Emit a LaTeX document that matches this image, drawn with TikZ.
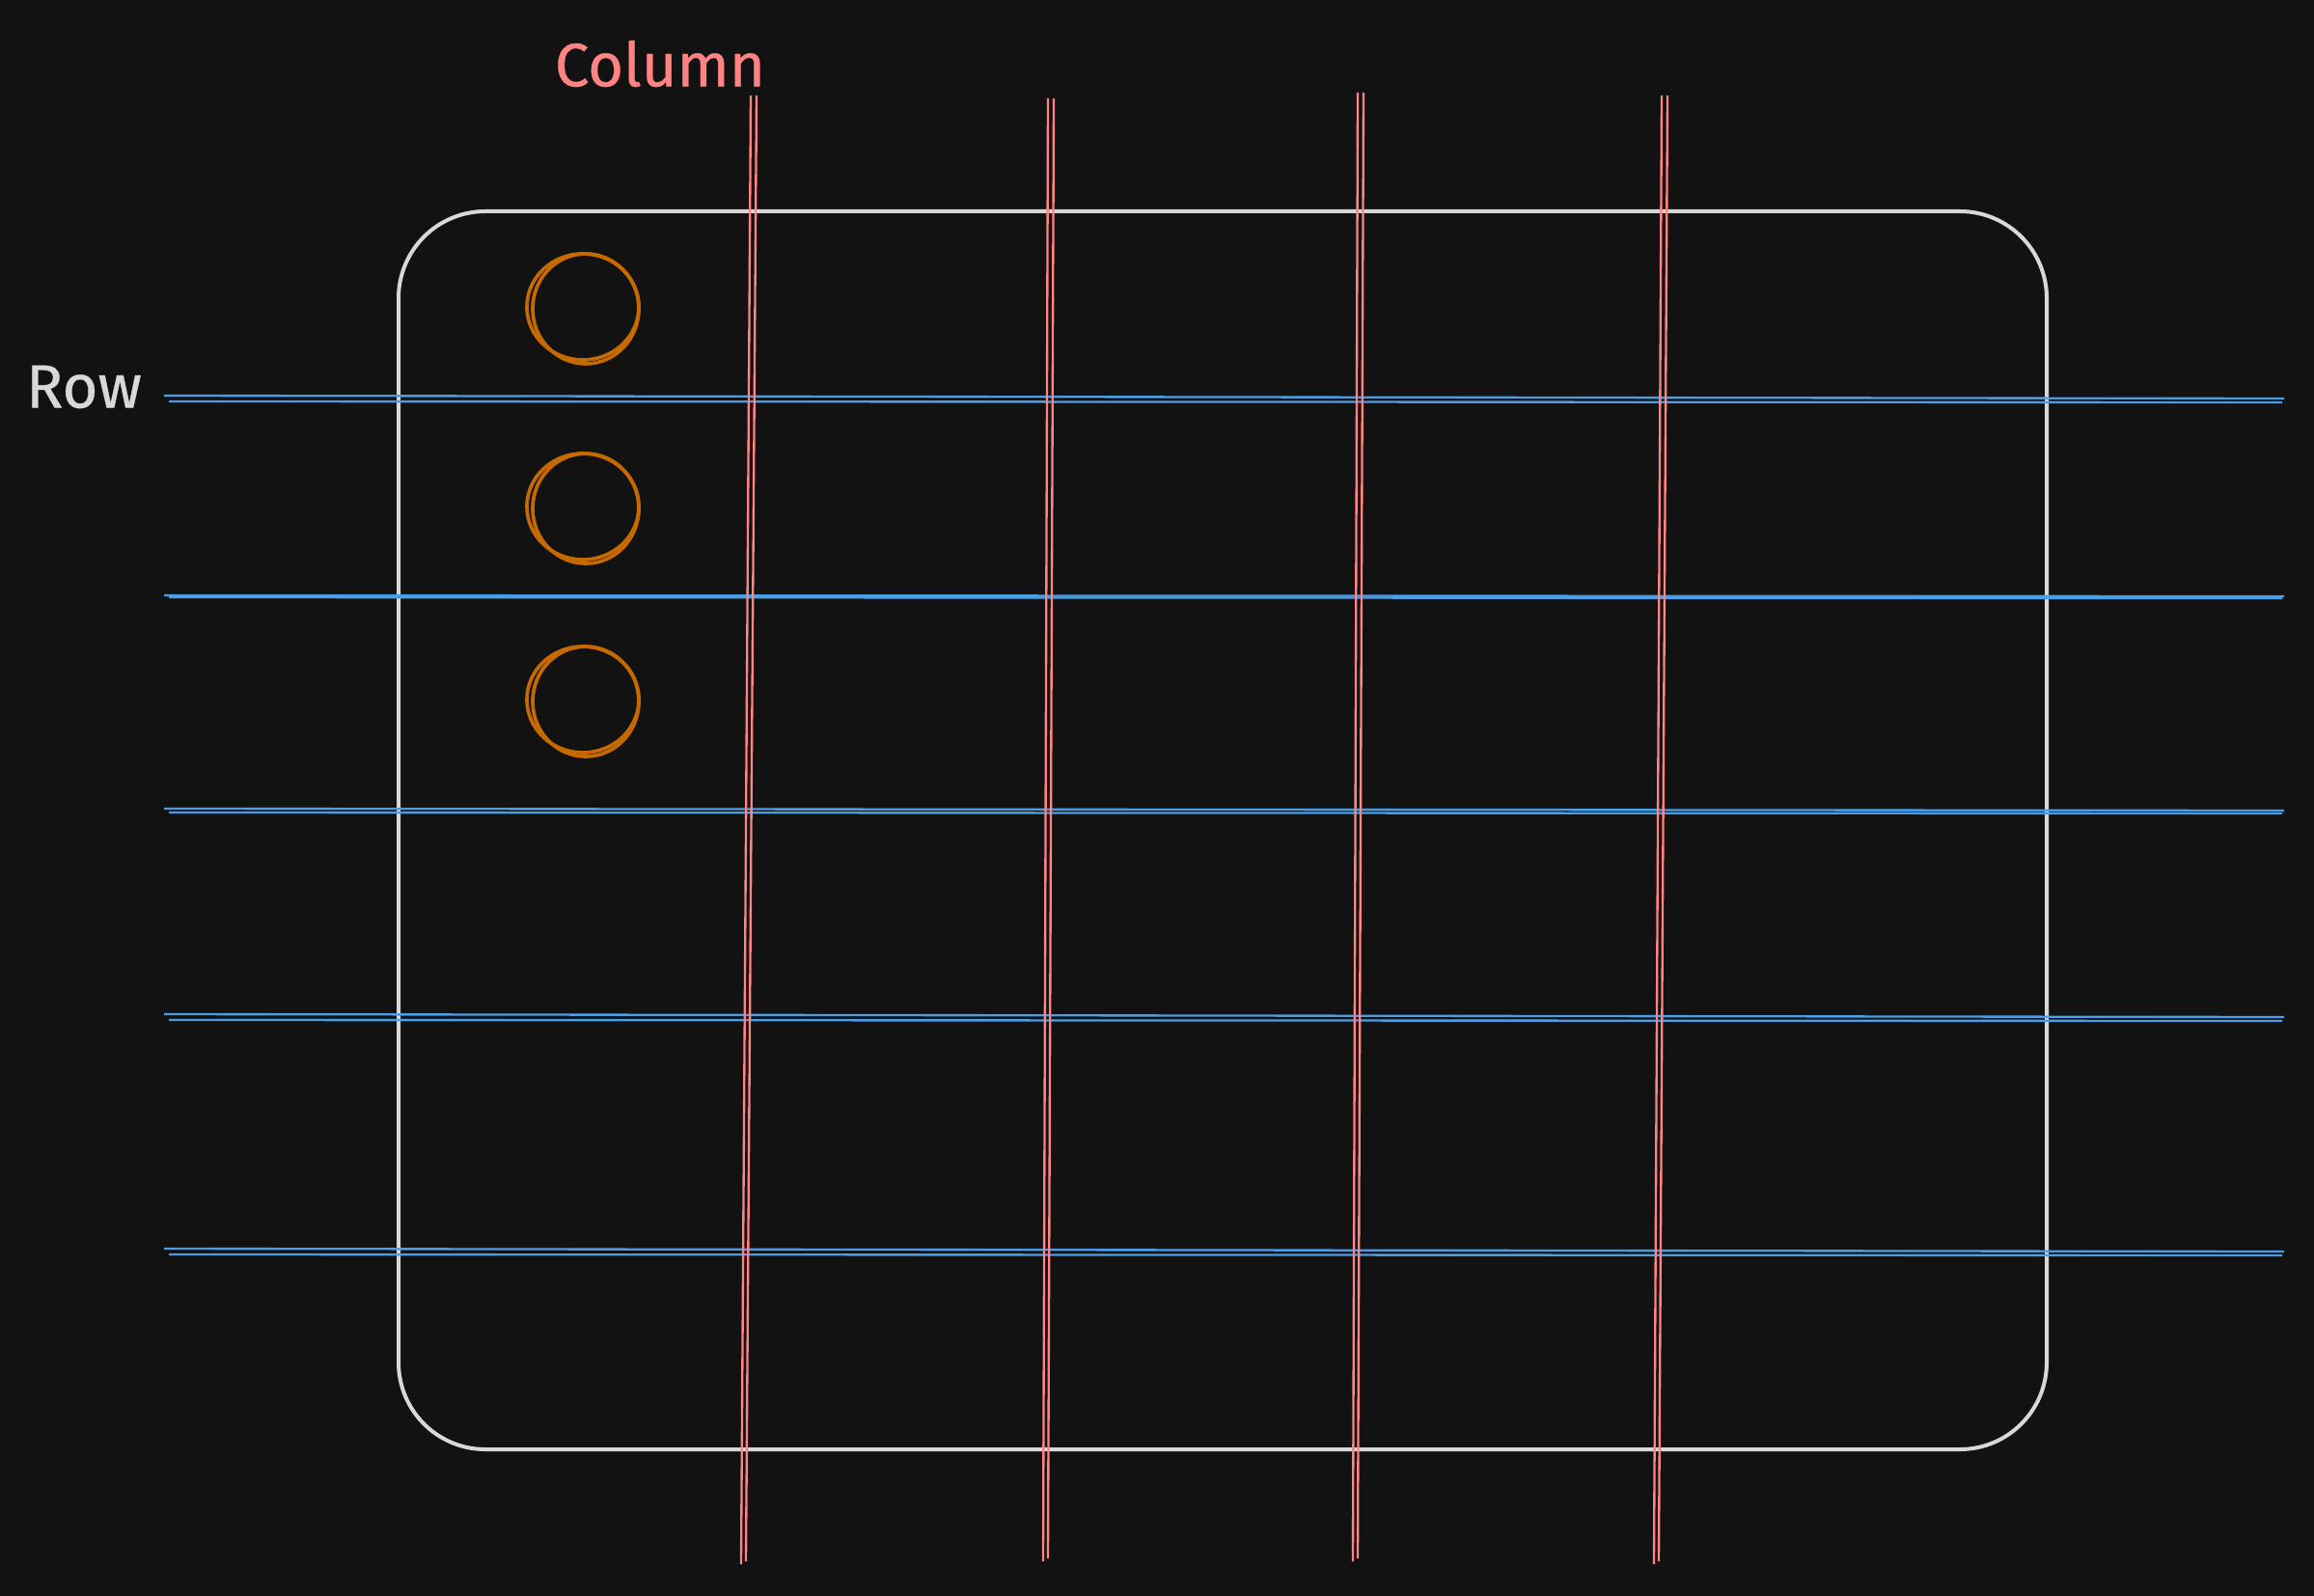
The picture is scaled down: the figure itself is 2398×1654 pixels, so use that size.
\documentclass[tikz,border=0pt]{standalone}
\usepackage{fontspec}
\setmainfont{Fira Sans}
\definecolor{bg}{HTML}{121212}
\definecolor{rowblue}{HTML}{4A9EE8}
\definecolor{colred}{HTML}{FF8383}
\definecolor{circorange}{HTML}{C66A00}
\definecolor{boxgray}{HTML}{D8D8D8}
\tikzset{
  rowline/.style={draw=rowblue,line width=0.7pt},
  colline/.style={draw=colred,line width=0.7pt},
  frame/.style={draw=boxgray,line width=1.2pt,rounded corners=27pt},
  ring/.style={draw=circorange,line width=1.1pt},
  lbl/.style={font=\fontsize{19}{22}\selectfont\addfontfeatures{FakeBold=0.6},inner sep=0pt}
}
\begin{document}
\begin{tikzpicture}[x=0.3pt,y=-0.3pt]
\fill[bg] (0,0) rectangle (2398,1654);
\useasboundingbox (0,0) rectangle (2398,1654);
% frame
\draw[frame] (413,219) rectangle (2121,1502);
% circles
\foreach \cy/\n in {318/a,525/b,725/c}{
  \node[circle,minimum size=34pt,inner sep=0pt] (c\n) at (604,\cy) {};
  \draw[ring] (604,\cy) ellipse [x radius=58,y radius=55];
  \draw[ring] (607,\cy+2) ellipse [x radius=55,y radius=57];
}
% rows
\foreach \y/\d in {413/3,618/1,840/2,1054/3,1297/3}{
  \draw[rowline] (170,\y-\d) -- (2367,\y);
  \draw[rowline] (175,\y+\d) -- (2365,\y+\d+1);
}
% columns
\foreach \xt/\xb/\yt/\yb in {778/768/99/1621,1086/1081/102/1618,1407/1402/96/1618,1722/1714/99/1621}{
  \draw[colline] (\xt,\yt) -- (\xb,\yb);
  \draw[colline] (\xt+6,\yt) -- (\xb+5,\yb-3);
}
% labels
\node[lbl,text=colred] (column) at (684,66) {Column};
\node[lbl,text=boxgray] (row) at (87,401) {Row};
\end{tikzpicture}
\end{document}
